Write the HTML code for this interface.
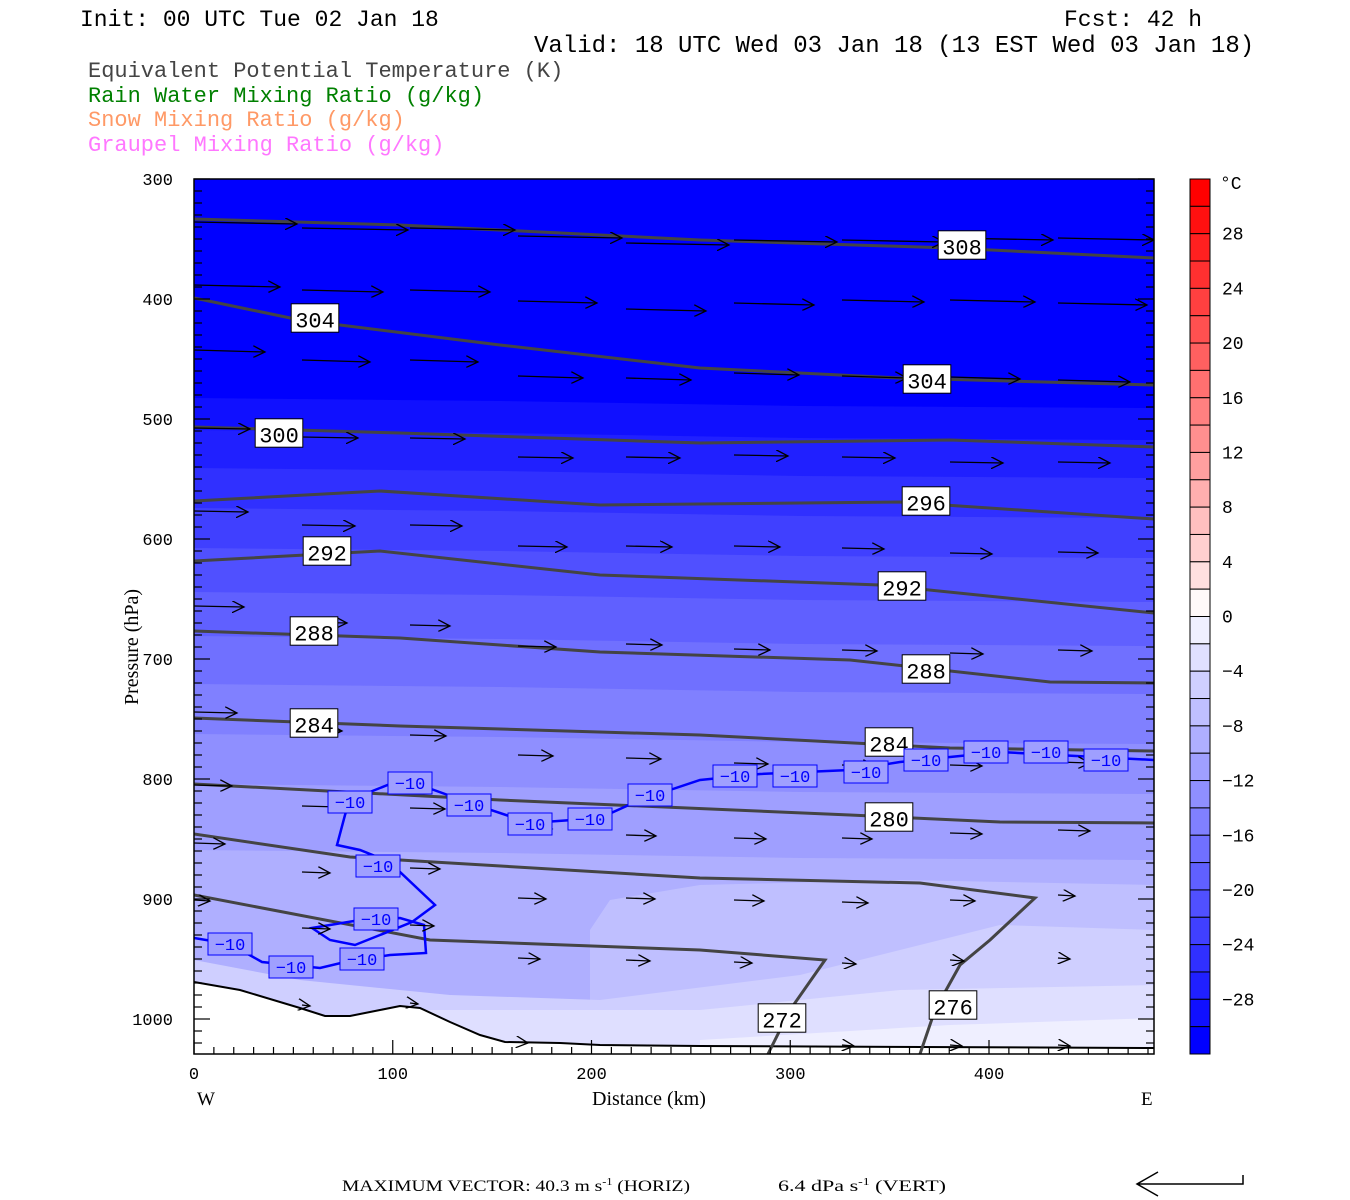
<!DOCTYPE html>
<html><head><meta charset="utf-8"><style>
html,body{margin:0;padding:0;background:#fff;}
svg{display:block;}
text{font-family:"Liberation Mono",monospace;}
.serif{font-family:"Liberation Serif",serif;}
</style></head><body>
<svg id="s" width="1350" height="1200" xmlns="http://www.w3.org/2000/svg">
<defs>
<marker id="ah" markerWidth="14" markerHeight="12" refX="12" refY="6" orient="auto" markerUnits="userSpaceOnUse">
<path d="M0,0 L12,6 L0,12" fill="none" stroke="#000" stroke-width="1.3"/>
</marker>
<clipPath id="cp"><rect x="194" y="179" width="960" height="875"/></clipPath>
</defs>
<text x="80" y="26" font-size="23">Init: 00 UTC Tue 02 Jan 18</text>
<text x="1064" y="26" font-size="23">Fcst:  42 h</text>
<text x="534" y="52" font-size="24">Valid: 18 UTC Wed 03 Jan 18 (13 EST Wed 03 Jan 18)</text>
<text x="88" y="77" font-size="22" fill="#444">Equivalent Potential Temperature (K)</text>
<text x="88" y="102" font-size="22" fill="#008000">Rain Water Mixing Ratio (g/kg)</text>
<text x="88" y="126" font-size="22" fill="#ff9966">Snow Mixing Ratio (g/kg)</text>
<text x="88" y="151" font-size="22" fill="#ff77ff">Graupel Mixing Ratio (g/kg)</text>
<g id="plot" clip-path="url(#cp)"></g>
<g id="over"></g>
<rect x="194" y="179" width="960" height="875" fill="none" stroke="#000" stroke-width="1.5"/>
<g id="ticks" stroke="#000" stroke-width="1.2"></g>
<g id="lab" font-size="17"></g>
<text x="138" y="705" font-size="20" transform="rotate(-90 138 705)" class="serif">Pressure (hPa)</text>
<text x="592" y="1105" font-size="20" class="serif">Distance (km)</text>
<text x="197" y="1105" font-size="19" class="serif">W</text>
<text x="1141" y="1105" font-size="19" class="serif">E</text>
<text x="342" y="1191" font-size="16" class="serif" textLength="348" lengthAdjust="spacingAndGlyphs">MAXIMUM VECTOR:  40.3 m s<tspan dy="-6" font-size="10">-1</tspan><tspan dy="6"> (HORIZ)</tspan></text>
<text x="778" y="1191" font-size="16" class="serif" textLength="168" lengthAdjust="spacingAndGlyphs">6.4 dPa s<tspan dy="-6" font-size="10">-1</tspan><tspan dy="6"> (VERT)</tspan></text>
<path d="M1243,1175 L1243,1184 L1137,1184 M1158,1172 L1137,1184 L1158,1196" fill="none" stroke="#000" stroke-width="1.5"/>
<g id="cb"></g>
</svg>
<script>
const NS="http://www.w3.org/2000/svg";
function el(p,t,a,txt){const e=document.createElementNS(NS,t);for(const k in a)e.setAttribute(k,a[k]);if(txt!==undefined)e.textContent=txt;document.getElementById(p).appendChild(e);return e;}
function blue(k){const v=Math.round(255*(1-k/16));return `rgb(${v},${v},255)`;}
el('plot','rect',{x:194,y:179,width:960,height:875,fill:blue(16)});
const bnd={15:398,14:430,13:468,12:508,11:548,10:592,9:636,8:684,7:734,6:784,5:850};
for(let k=15;k>=5;k--){
  const yl=bnd[k], yr=yl+10;
  el('plot','path',{d:`M194,${yl} L500,${yl+3} L800,${yl+8} L1154,${yr} L1154,1054 L194,1054Z`,fill:blue(k)});
}
el('plot','path',{d:"M590,930 L610,900 L700,885 L900,880 L1154,885 L1154,1054 L590,1054Z",fill:blue(4)});
el('plot','path',{d:"M194,960 L300,980 L450,995 L600,1000 L800,975 L900,950 L1000,925 L1154,930 L1154,1054 L194,1054Z",fill:blue(3)});
el('plot','path',{d:"M400,1010 L700,1010 L900,990 L1154,985 L1154,1054 L400,1054Z",fill:blue(2)});
el('plot','path',{d:"M700,1040 L950,1025 L1154,1018 L1154,1054 L700,1054Z",fill:blue(1)});
el('plot','path',{d:"M194,982 L240,990 L300,1008 L325,1016 L350,1016 L380,1010 L400,1006 L420,1008 L450,1022 L480,1035 L505,1042 L560,1043 L600,1045 L700,1046 L1154,1048 L1154,1054 L194,1054Z",fill:"#fff"});
el('plot','path',{d:"M194,982 L240,990 L300,1008 L325,1016 L350,1016 L380,1010 L400,1006 L420,1008 L450,1022 L480,1035 L505,1042 L560,1043 L600,1045 L700,1046 L1154,1048",fill:"none",stroke:"#000","stroke-width":2});
const th=[
"M194,219 L400,225 L700,240 L950,248 L1154,258",
"M194,298 L300,320 L500,345 L700,368 L900,378 L1154,385",
"M194,427 L400,433 L700,443 L950,440 L1154,447",
"M194,501 L380,491 L600,505 L900,502 L1154,519",
"M194,561 L380,551 L600,575 L880,585 L1154,613",
"M194,631 L400,638 L600,652 L850,660 L1050,682 L1154,683",
"M194,718 L400,726 L700,735 L950,748 L1154,751",
"M194,784 L500,800 L850,815 L1000,822 L1154,823",
"M194,834 L350,857 L700,878 L920,883 L1035,898 L990,940 L960,965 L935,1010 L920,1054",
"M194,895 L430,940 L700,950 L825,960 L790,1010 L768,1054"];
th.forEach(d=>el('plot','path',{d,fill:"none",stroke:"#444","stroke-width":3}));
const bl=["M194,938 L230,944 L262,962 L320,968 L345,962 L390,955 L426,953 L424,925 L400,918 L360,920 L312,928 L330,940 L355,945 L380,935 L412,922 L435,905 L400,872 L380,858 L360,850 L337,845 L345,815 L350,800 L390,784 L420,785 L470,803 L530,823 L600,818 L640,800 L700,780 L760,774 L850,770 L900,762 L1000,752 L1154,760"];
bl.forEach(d=>el('plot','path',{d,fill:"none",stroke:"#0000ff","stroke-width":2.5}));
// arrows rows: y per column, lengths per column
const rows=[
 {y:[222,228,228,236,243,240,240,238,238],L:[103,106,105,104,103,103,102,103,96]},
 {y:[285,290,290,301,309,303,300,300,303],L:[86,81,80,79,80,80,82,85,89]},
 {y:[350,360,360,376,378,373,376,377,380],L:[71,68,68,65,65,65,65,70,72]},
 {y:[428,437,438,457,457,455,457,462,462],L:[56,56,55,55,54,54,53,53,52]},
 {y:[511,525,525,546,546,546,548,553,552],L:[54,53,52,49,46,46,42,42,40]},
 {y:[606,622,625,646,644,649,650,653,650],L:[50,45,40,38,36,36,35,33,34]},
 {y:[712,730,735,755,758,763,765,765,762],L:[43,40,36,35,35,34,33,32,32]},
 {y:[785,806,808,828,835,838,838,833,830],L:[38,38,35,34,30,32,30,32,32]},
 {y:[843,872,868,898,898,900,902,900,895],L:[31,28,30,28,29,30,26,25,17]},
 {y:[900,928,925,958,960,962,963,960,958],L:[16,28,24,22,24,18,14,14,12]},
 {y:[null,1005,1003,1042,null,null,1045,1045,1045],L:[0,8,8,10,0,0,12,12,12]}];
rows.forEach(r=>{for(let c=0;c<9;c++){if(r.y[c]===null)continue;const x=194+108*c,L=r.L[c],y=r.y[c];
 el('plot','line',{x1:x,y1:y,x2:x+L,y2:y+(L>60?2:1),stroke:"#000","stroke-width":1.3,"marker-end":"url(#ah)"});}});
function lbl(x,y,t,col,fs){const w=t.length*(fs*0.6)+8;el('over','rect',{x:x-w/2,y:y-fs*0.6-2,width:w,height:fs*1.2+2,fill:"#fff",stroke:"#000","stroke-width":1});el('over','text',{x:x,y:y+fs*0.38,"font-size":fs,"text-anchor":"middle",fill:col},t);}
[[962,246,"308"],[315,319,"304"],[927,380,"304"],[279,434,"300"],[926,502,"296"],[327,552,"292"],[902,587,"292"],[314,632,"288"],[926,670,"288"],[314,724,"284"],[889,743,"284"],[889,818,"280"],[782,1019,"272"],[953,1006,"276"]].forEach(a=>lbl(a[0],a[1],a[2],"#000",22));
[[230,944,"−10"],[291,967,"−10"],[362,959,"−10"],[376,919,"−10"],[378,866,"−10"],[350,802,"−10"],[410,783,"−10"],[469,805,"−10"],[530,824,"−10"],[590,819,"−10"],[650,795,"−10"],[735,776,"−10"],[795,776,"−10"],[866,772,"−10"],[926,760,"−10"],[986,752,"−10"],[1046,752,"−10"],[1106,760,"−10"]].forEach(g=>{const w=44;el('over','rect',{x:g[0]-w/2,y:g[1]-11,width:w,height:22,fill:blue(6),stroke:"#0000ff","stroke-width":1});el('over','text',{x:g[0],y:g[1]+6,"font-size":17,"text-anchor":"middle",fill:"#0000ff"},g[2]);});
for(let p=300;p<=1020;p+=10){const y=179+(p-300)*1.2;const L=(p%100===0)?16:8;
 el('ticks','line',{x1:194,y1:y,x2:194+L,y2:y});el('ticks','line',{x1:1154,y1:y,x2:1154-L,y2:y});}
for(let d=0;d<=480;d+=10){const x=194+d*1.9875;const L=(d%100===0)?14:7;if(x>1154)break;
 el('ticks','line',{x1:x,y1:1054,x2:x,y2:1054-L});}
for(let p=300;p<=1000;p+=100){el('lab','text',{x:173,y:179+(p-300)*1.2+6,"text-anchor":"end"},String(p));}
for(let d=0;d<=400;d+=100){el('lab','text',{x:194+d*1.9875,y:1079,"text-anchor":"middle"},String(d));}
const h=875/32;
for(let i=0;i<32;i++){let col;
 if(i<16){const k=16-i;const v=Math.round(255*(1-k/16))+(k===1?10:0);col=`rgb(255,${v},${v})`;}
 else{col=blue(i-15);}
 el('cb','rect',{x:1190,y:179+i*h,width:20,height:h,fill:col,stroke:"#000","stroke-width":1});}
el('cb','text',{x:1220,y:189,"font-size":18},"°C");
const cl=["28","24","20","16","12","8","4","0","−4","−8","−12","−16","−20","−24","−28"];
cl.forEach((t,j)=>el('cb','text',{x:1222,y:179+(j+1)*2*h+6,"font-size":18},t));
</script>
</body></html>
